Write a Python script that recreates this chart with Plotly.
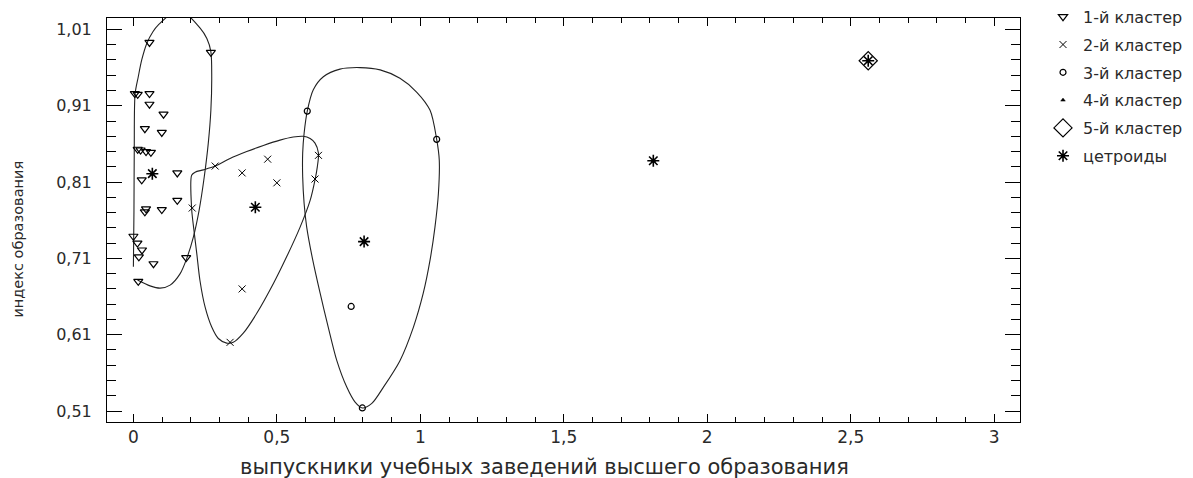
import plotly.graph_objects as go

# ---- data ----
c1_x = [0.056, 0.270, 0.005, 0.015, 0.056, 0.056, 0.105, 0.040, 0.099, 0.015, 0.025,
        0.044, 0.061, 0.029, 0.153, 0.153, 0.044, 0.040, 0.099, 0.000, 0.014, 0.030,
        0.019, 0.070, 0.184, 0.017]
c1_y = [0.993, 0.980, 0.926, 0.925, 0.926, 0.912, 0.899, 0.880, 0.875, 0.853, 0.852,
        0.850, 0.849, 0.813, 0.822, 0.786, 0.775, 0.771, 0.774, 0.739, 0.730, 0.721,
        0.712, 0.703, 0.711, 0.680]

c2_x = [0.285, 0.468, 0.379, 0.500, 0.205, 0.645, 0.633, 0.379, 0.337]
c2_y = [0.831, 0.840, 0.822, 0.809, 0.776, 0.845, 0.814, 0.670, 0.600]

c3_x = [0.606, 1.057, 0.759, 0.798]
c3_y = [0.903, 0.866, 0.647, 0.514]

c4_x = [1.812]
c4_y = [0.838]

c5_x = [2.561]
c5_y = [0.969]

cent_x = [0.066, 0.425, 0.804, 1.812, 2.561]
cent_y = [0.821, 0.777, 0.732, 0.838, 0.969]

# cluster outlines (hand-drawn curves in the reference)
hull1_x = [0.000, 0.002, 0.003, 0.006, 0.017, 0.029, 0.047, 0.068, 0.087, 0.160,
           0.232, 0.256, 0.270, 0.273, 0.270, 0.261, 0.247, 0.229, 0.209, 0.186,
           0.163, 0.128, 0.093, 0.058, 0.023, 0.014]
hull1_y = [0.699, 0.773, 0.852, 0.926, 0.948, 0.970, 0.992, 1.007, 1.016, 1.036,
           1.012, 0.998, 0.981, 0.948, 0.904, 0.861, 0.817, 0.773, 0.738, 0.710,
           0.690, 0.675, 0.671, 0.674, 0.680, 0.682]

hull2_x = [0.203, 0.203, 0.211, 0.221, 0.232, 0.250, 0.273, 0.296, 0.325, 0.348,
           0.383, 0.430, 0.488, 0.534, 0.581, 0.616, 0.633, 0.641, 0.645, 0.633,
           0.616, 0.592, 0.557, 0.511, 0.453, 0.395, 0.337, 0.285, 0.244, 0.215, 0.203]
hull2_y = [0.819, 0.775, 0.747, 0.716, 0.681, 0.646, 0.620, 0.605, 0.599, 0.600,
           0.612, 0.638, 0.677, 0.712, 0.751, 0.786, 0.813, 0.830, 0.848, 0.861,
           0.867, 0.870, 0.869, 0.865, 0.858, 0.850, 0.841, 0.831, 0.826, 0.823, 0.819]

hull3_x = [0.798, 0.772, 0.744, 0.709, 0.679, 0.651, 0.625, 0.604, 0.595, 0.590,
           0.590, 0.595, 0.606, 0.627, 0.662, 0.720, 0.790, 0.860, 0.929, 0.987,
           1.034, 1.057, 1.066, 1.063, 1.051, 1.034, 1.010, 0.976, 0.929, 0.871,
           0.831, 0.798]
hull3_y = [0.514, 0.522, 0.541, 0.576, 0.620, 0.664, 0.708, 0.751, 0.782, 0.817,
           0.848, 0.874, 0.903, 0.931, 0.948, 0.958, 0.960, 0.957, 0.946, 0.928,
           0.904, 0.866, 0.839, 0.795, 0.751, 0.708, 0.664, 0.620, 0.576, 0.541,
           0.520, 0.514]

x_tickvals = [0, 0.5, 1, 1.5, 2, 2.5, 3]
x_ticktext = ["0", "0,5", "1", "1,5", "2", "2,5", "3"]
y_tickvals = [0.51, 0.61, 0.71, 0.81, 0.91, 1.01]
y_ticktext = ["0,51", "0,61", "0,71", "0,81", "0,91", "1,01"]

legend_names = ["1-й кластер", "2-й кластер", "3-й кластер", "4-й кластер",
                "5-й кластер", "цетроиды"]
x_title = "выпускники учебных заведений высшего образования"
y_title = "индекс образования"

FONT = "DejaVu Sans"
BLACK = "#000000"
TXT = "#2a2a2a"

fig = go.Figure()

for hx, hy in [(hull1_x, hull1_y), (hull2_x, hull2_y), (hull3_x, hull3_y)]:
    fig.add_trace(go.Scatter(x=hx, y=hy, mode="lines",
                             line=dict(color="#222222", width=1.1, shape="spline", smoothing=0.8),
                             showlegend=False, hoverinfo="skip"))

def pts(x, y, name, symbol, size, lw, group):
    fig.add_trace(go.Scatter(
        x=x, y=y, mode="markers", name=name, legendgroup=group,
        marker=dict(symbol=symbol, size=size, color=BLACK,
                    line=dict(color=BLACK, width=lw)),
    ))

pts(c1_x, c1_y, legend_names[0], "triangle-down-open", 8, 1.2, "g1")
pts(c2_x, c2_y, legend_names[1], "x-thin-open", 7, 1.0, "g2")
pts(c3_x, c3_y, legend_names[2], "circle-open", 6, 1.2, "g3")
pts(c4_x, c4_y, legend_names[3], "triangle-up", 4, 0.5, "g4")
pts(c5_x, c5_y, legend_names[4], "diamond-open", 14, 1.2, "g5")
pts(cent_x, cent_y, legend_names[5], "asterisk-open", 10, 1.6, "g6")

axis_common = dict(
    showline=True, linecolor=BLACK, linewidth=1, mirror="allticks",
    ticks="inside", tickcolor=BLACK, tickwidth=1,
    showgrid=False, zeroline=False,
)

# the page body has an 8px margin, so the figure is a little smaller and
# margins are measured from (8, 8)
fig.update_layout(
    width=1185, height=470,
    margin=dict(l=99, r=173, t=10, b=56, autoexpand=False),
    paper_bgcolor="white", plot_bgcolor="white",
    font=dict(family=FONT, color=TXT),
    xaxis=dict(
        range=[-0.092, 3.09], tickvals=x_tickvals, ticktext=x_ticktext,
        ticklen=8, tickfont=dict(family=FONT, size=17, color=TXT),
        minor=dict(ticks="inside", dtick=0.1, tick0=0, ticklen=5, tickcolor=BLACK, showgrid=False),
        **axis_common,
    ),
    yaxis=dict(
        range=[0.4956, 1.025], tickvals=y_tickvals, ticktext=y_ticktext,
        ticklen=15, ticklabelstandoff=11, tickfont=dict(family=FONT, size=16, color=TXT),
        minor=dict(ticks="inside", dtick=0.02, tick0=0.51, ticklen=9, tickcolor=BLACK, showgrid=False),
        **axis_common,
    ),
    legend=dict(x=1.0252, xanchor="left", y=1.045, yanchor="top",
                font=dict(family=FONT, size=16, color=TXT),
                tracegroupgap=4, bgcolor="rgba(0,0,0,0)"),
    annotations=[
        dict(text=x_title, xref="paper", yref="paper", x=0.4797, y=-0.112,
             xanchor="center", yanchor="middle", showarrow=False,
             font=dict(family=FONT, size=21, color=TXT)),
        dict(text=y_title, xref="paper", yref="paper", x=-0.097, y=0.4526,
             xanchor="center", yanchor="middle", showarrow=False, textangle=-90,
             font=dict(family=FONT, size=14.5, color=TXT)),
    ],
)

fig.write_html("out.html")
